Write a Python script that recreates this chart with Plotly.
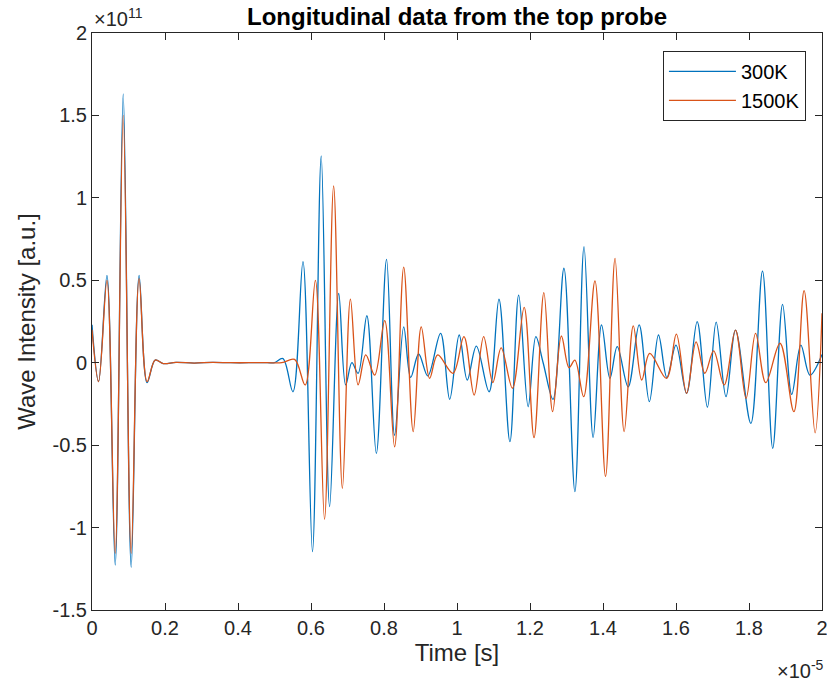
import numpy as np
import plotly.graph_objects as go

# ---- data (time in microseconds, intensity in 1e11 a.u.) ----
t_300K = [0.0, 0.18, 0.41, 0.635, 0.855, 1.074, 1.29, 1.51, 1.73, 1.95, 2.3, 2.8, 3.3, 3.8, 4.3, 4.8, 5.0,
          5.23, 5.505, 5.78, 6.04, 6.28, 6.51, 6.76, 6.95, 7.12, 7.29, 7.53, 7.79, 8.07, 8.29, 8.54, 8.73,
          8.95, 9.2, 9.55, 9.80, 10.06, 10.28, 10.53, 10.88, 11.15, 11.45, 11.69, 11.95, 12.16, 12.36, 12.63,
          12.93, 13.23, 13.48, 13.73, 13.96, 14.19, 14.39, 14.69, 14.99, 15.27, 15.52, 15.75, 16.00, 16.29,
          16.58, 16.86, 17.10, 17.37, 17.63, 18.05, 18.37, 18.65, 18.92, 19.17, 19.42, 19.67, 20.0]
v_300K = [0.23, -0.115, 0.53, -1.227, 1.63, -1.241, 0.53, -0.121, 0.016, -0.005, 0.002, -0.002, 0.002, 0.0, 0.0, 0.0, 0.0,
          0.025, -0.176, 0.613, -1.146, 1.254, -0.873, 0.42, -0.135, 0.0, -0.064, 0.285, -0.55, 0.627, -0.44, 0.218, -0.089,
          0.053, -0.08, 0.178, -0.222, 0.168, -0.105, 0.101, -0.176, 0.385, -0.479, 0.41, -0.267, 0.158, 0.0, -0.222,
          0.573, -0.782, 0.704, -0.453, 0.229, -0.095, 0.097, -0.146, 0.229, -0.236, 0.168, -0.09, 0.107, -0.186,
          0.249, -0.27, 0.246, -0.206, 0.198, -0.368, 0.556, -0.519, 0.354, -0.192, 0.107, -0.075, 0.05]

t_1500K = [0.0, 0.18, 0.41, 0.635, 0.855, 1.074, 1.29, 1.51, 1.73, 1.95, 2.3, 2.8, 3.3, 3.8, 4.3, 4.8, 5.2,
           5.55, 5.84, 6.12, 6.37, 6.62, 6.86, 7.08, 7.29, 7.50, 7.745, 8.02, 8.29, 8.54, 8.80, 9.02, 9.25,
           9.47, 9.89, 10.19, 10.47, 10.73, 10.98, 11.21, 11.52, 11.84, 12.11, 12.38, 12.62, 12.86, 13.07,
           13.23, 13.47, 13.78, 14.07, 14.33, 14.58, 14.83, 15.06, 15.28, 15.74, 16.01, 16.29, 16.55, 16.79,
           17.03, 17.32, 17.63, 17.92, 18.18, 18.46, 18.85, 19.23, 19.51, 19.81, 20.0]
v_1500K = [0.2, -0.115, 0.50, -1.156, 1.50, -1.156, 0.51, -0.115, 0.016, -0.005, 0.002, -0.002, 0.002, 0.0, 0.0, 0.0, 0.0,
           0.02, -0.135, 0.50, -0.95, 1.072, -0.762, 0.386, -0.135, 0.047, -0.075, 0.255, -0.51, 0.58, -0.418, 0.218, -0.095,
           0.047, -0.064, 0.158, -0.196, 0.158, -0.12, 0.09, -0.155, 0.336, -0.455, 0.425, -0.297, 0.162, -0.03,
           0.016, -0.206, 0.496, -0.69, 0.633, -0.418, 0.223, -0.105, 0.057, -0.095, 0.173, -0.186, 0.127, -0.064,
           0.072, -0.135, 0.198, -0.216, 0.178, -0.121, 0.118, -0.297, 0.437, -0.425, 0.3]

x_ticks = [0, 0.2, 0.4, 0.6, 0.8, 1, 1.2, 1.4, 1.6, 1.8, 2]          # x 1e-5 s
x_ticklabels = ["0", "0.2", "0.4", "0.6", "0.8", "1", "1.2", "1.4", "1.6", "1.8", "2"]
y_ticks = [-1.5, -1, -0.5, 0, 0.5, 1, 1.5, 2]                          # x 1e11
y_ticklabels = ["-1.5", "-1", "-0.5", "0", "0.5", "1", "1.5", "2"]

series_names = ["300K", "1500K"]
colors = ["#0072BD", "#D95319"]

FONT = "Liberation Sans, Arial, sans-serif"
AX = "#262626"

fig = go.Figure()
for name, t, v, c in [(series_names[0], t_300K, v_300K, colors[0]),
                      (series_names[1], t_1500K, v_1500K, colors[1])]:
    fig.add_trace(go.Scatter(
        x=np.array(t) * 1e-6, y=np.array(v) * 1e11, name=name, mode="lines",
        line=dict(color=c, width=1.3, shape="spline", smoothing=1.0),
    ))

axis_common = dict(
    showline=True, linecolor=AX, linewidth=1, mirror="allticks",
    ticks="inside", ticklen=7, tickcolor=AX, tickwidth=1,
    showgrid=False, zeroline=False, automargin=False, ticklabeloverflow="allow",
    tickfont=dict(family=FONT, size=20, color=AX),
)

fig.update_layout(
    width=827, height=686,
    margin=dict(l=92, r=5, t=33, b=76),
    paper_bgcolor="white", plot_bgcolor="white",
    title=dict(text="<b>Longitudinal data from the top probe</b>",
               font=dict(family=FONT, size=24, color="black"),
               x=(92 + 822) / 2 / 827, xanchor="center", y=1 - 17 / 686, yanchor="middle", automargin=False),
    xaxis=dict(range=[0, 2e-5], tickvals=[v * 1e-5 for v in x_ticks], ticktext=x_ticklabels,
               title=dict(text="Time [s]", font=dict(family=FONT, size=24, color=AX), standoff=6),
               **axis_common),
    yaxis=dict(range=[-1.5e11, 2e11], tickvals=[v * 1e11 for v in y_ticks], ticktext=y_ticklabels,
               title=dict(text="Wave Intensity [a.u.]", font=dict(family=FONT, size=24, color=AX), standoff=10),
               **axis_common),
    legend=dict(x=0.978, y=0.969, xanchor="right", yanchor="top",
                bgcolor="white", bordercolor=AX, borderwidth=1,
                font=dict(family=FONT, size=20, color="black"),
                itemwidth=67, tracegroupgap=0),
    showlegend=True,
    annotations=[
        dict(text="×10<sup>11</sup>", xref="paper", yref="paper", x=0, y=1,
             xanchor="left", yanchor="bottom", yshift=1, showarrow=False,
             font=dict(family=FONT, size=20, color=AX)),
        dict(text="×10<sup>-5</sup>", xref="paper", yref="paper", x=1, y=0,
             xanchor="right", yanchor="bottom", yshift=-74, xshift=4, showarrow=False,
             font=dict(family=FONT, size=20, color=AX)),
    ],
)

fig.write_html("out.html", config={"displayModeBar": False},
               post_script="document.body.style.margin='0';document.body.style.overflow='hidden';")
